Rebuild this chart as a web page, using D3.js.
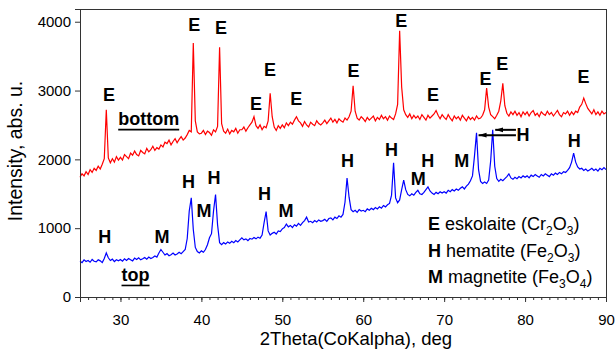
<!DOCTYPE html>
<html>
<head>
<meta charset="utf-8">
<script src="https://cdn.jsdelivr.net/npm/d3@7"></script>
<style>
  html, body { margin: 0; padding: 0; background: #fff; }
  svg { display: block; font-family: "Liberation Sans", Arial, sans-serif; }
</style>
</head>
<body>
<div id="chart"></div>
<script>
// scan grid: 25 .. 90 deg, one reading every 0.25 deg
const angleStart = 25;
const angleStep = 0.25;

// "bottom" sample (red)
const bottomCounts = [
  1740, 1790, 1760, 1820, 1780, 1850, 1810, 1870, 1840, 1900, 1860, 1930, 2010, 2720, 2020, 1950, 2010, 1960, 2040, 1990,
  2030, 1990, 2070, 2040, 2010, 2090, 2060, 2120, 2070, 2050, 2130, 2100, 2080, 2160, 2110, 2140, 2190, 2130, 2170, 2150,
  2210, 2180, 2250, 2230, 2280, 2210, 2260, 2300, 2240, 2290, 2330, 2280, 2310, 2360, 2420, 2400, 3690, 2560, 2400, 2370,
  2380, 2420, 2360, 2410, 2390, 2350, 2430, 2400, 2480, 3630, 2520, 2410, 2380, 2440, 2370, 2420, 2400, 2450, 2380, 2430,
  2430, 2470, 2410, 2460, 2500, 2540, 2620, 2490, 2450, 2500, 2430, 2480, 2460, 2560, 2960, 2620, 2470, 2420, 2490, 2450,
  2500, 2460, 2530, 2490, 2540, 2510, 2570, 2620, 2560, 2530, 2480, 2550, 2500, 2470, 2540, 2510, 2490, 2560, 2520, 2500,
  2530, 2570, 2520, 2560, 2600, 2540, 2580, 2530, 2590, 2560, 2540, 2600, 2570, 2620, 2700, 3070, 2700, 2600, 2570, 2620,
  2590, 2550, 2610, 2570, 2600, 2630, 2560, 2610, 2580, 2640, 2590, 2620, 2570, 2630, 2600, 2580, 2660, 2800, 3870, 3050,
  2720, 2650, 2610, 2660, 2590, 2640, 2600, 2630, 2580, 2650, 2610, 2570, 2640, 2600, 2630, 2660, 2710, 2640, 2590, 2650,
  2610, 2580, 2650, 2600, 2560, 2630, 2590, 2620, 2570, 2640, 2600, 2560, 2620, 2580, 2610, 2570, 2630, 2590, 2600, 2640,
  2720, 3035, 2760, 2650, 2620, 2590, 2640, 2700, 2850, 3105, 2780, 2670, 2630, 2690, 2650, 2700, 2640, 2680, 2620, 2690,
  2650, 2690, 2630, 2680, 2710, 2640, 2670, 2620, 2690, 2660, 2640, 2700, 2650, 2680, 2630, 2670, 2710, 2650, 2620, 2680,
  2660, 2700, 2640, 2690, 2650, 2700, 2680, 2760, 2800, 2890, 2810, 2740, 2700, 2660, 2720, 2650, 2690, 2640, 2700, 2660,
  2680
];

// "top" sample (blue)
const topCounts = [
  520, 500, 540, 515, 530, 505, 545, 520, 510, 540, 525, 500, 560, 640, 570, 530, 550, 515, 540, 525,
  545, 520, 555, 530, 560, 540, 525, 565, 545, 570, 540, 555, 575, 550, 580, 560, 575, 595, 580, 640,
  690, 650, 610, 630, 600, 615, 640, 610, 625, 650, 630, 660, 690, 850, 1250, 1440, 980, 720, 660, 640,
  670, 650, 690, 760, 860, 920, 1250, 1490, 1050, 790, 760, 790, 770, 800, 780, 810, 790, 820, 800, 830,
  860, 830, 845, 820, 850, 840, 865, 845, 870, 855, 900, 1080, 1240, 960, 900, 925, 940, 915, 960, 950,
  990, 1010, 1060, 1020, 1040, 1010, 1050, 1030, 1070, 1040, 1080, 1110, 1160, 1090, 1100, 1080, 1110, 1090, 1120, 1100,
  1110, 1130, 1100, 1140, 1150, 1120, 1160, 1140, 1180, 1160, 1200, 1380, 1730, 1450, 1270, 1240, 1260, 1230, 1270, 1250,
  1260, 1240, 1280, 1260, 1290, 1270, 1300, 1280, 1310, 1290, 1330, 1310, 1340, 1360, 1480, 1950, 1440, 1370, 1410, 1560,
  1700, 1560, 1490, 1470, 1500, 1480, 1520, 1550, 1500, 1490, 1520, 1560, 1600, 1540, 1510, 1490, 1520, 1500, 1530, 1510,
  1530, 1510, 1550, 1530, 1560, 1540, 1570, 1550, 1580, 1600, 1570, 1610, 1640, 1690, 1760, 2050, 2385, 1850, 1680, 1650,
  1670, 1650, 1700, 1980, 2430, 1900, 1720, 1680, 1710, 1690, 1720, 1750, 1790, 1730, 1710, 1740, 1720, 1750, 1730, 1760,
  1740, 1760, 1730, 1770, 1750, 1780, 1760, 1740, 1780, 1760, 1790, 1770, 1750, 1790, 1770, 1800, 1780, 1810, 1790, 1820,
  1810, 1840, 1880, 1960, 2090, 1960, 1890, 1860, 1870, 1840, 1860, 1830, 1850, 1870, 1840, 1860, 1830, 1870, 1850, 1880,
  1850
];

const xTicks = [30, 40, 50, 60, 70, 80, 90];
const yTicks = [0, 1000, 2000, 3000, 4000];

// peak marks: [letter, angle, intensity at letter baseline]
const bottomMarks = [
  ["E", 28.59, 2847], ["E", 39.13, 3869], ["E", 42.43, 3821], ["E", 46.76, 2720],
  ["E", 48.49, 3206], ["E", 51.71, 2788], ["E", 58.79, 3191], ["E", 64.69, 3927],
  ["E", 68.61, 2851], ["E", 75.11, 3079], ["E", 77.18, 3302], ["E", 87.23, 3104]
];
const topMarks = [
  ["H", 28.07, 781], ["M", 35.14, 781], ["H", 38.42, 1577], ["M", 40.31, 1169],
  ["H", 41.57, 1649], ["H", 47.79, 1411], ["M", 50.47, 1164], ["H", 58.05, 1882],
  ["H", 63.49, 2042], ["M", 66.79, 1625], ["H", 67.96, 1882], ["M", 72.17, 1891],
  ["H", 79.74, 2269], ["H", 86.08, 2182]
];
// arrows from the H label to the two hematite peaks: [from, to, intensity]
const arrows = [[78.87, 74.25, 2352], [78.87, 76.31, 2429]];

const sampleNames = [["bottom", 33.49, 2497], ["top", 31.86, 233]];

const legendItems = [
  ["E", " eskolaite (Cr", "2", "O", "3", ")"],
  ["H", " hematite (Fe", "2", "O", "3", ")"],
  ["M", " magnetite (Fe", "3", "O", "4", ")"]
];

const width = 615;
const height = 359;

const x = d3.scaleLinear().domain([25, 90]).range([80, 606]);
const y = d3.scaleLinear().domain([0, 4185]).range([297, 9]);

const svg = d3.select("#chart")
  .append("svg")
  .attr("width", width)
  .attr("height", height);

const line = d3.line()
  .x((d, i) => x(angleStart + i * angleStep))
  .y(d => y(d));

svg.append("path")
  .datum(topCounts)
  .attr("fill", "none")
  .attr("stroke", "#0000ff")
  .attr("stroke-width", 1.2)
  .attr("d", line);

svg.append("path")
  .datum(bottomCounts)
  .attr("fill", "none")
  .attr("stroke", "#ff0000")
  .attr("stroke-width", 1.2)
  .attr("d", line);

// frame
svg.append("rect")
  .attr("x", 80.5).attr("y", 9.5)
  .attr("width", 526).attr("height", 288)
  .attr("fill", "none")
  .attr("stroke", "#333");

// x axis, minor ticks every degree
svg.append("g")
  .attr("transform", "translate(0,297)")
  .call(d3.axisBottom(x).tickValues(d3.range(25, 91)).tickSize(3).tickFormat(""))
  .call(g => g.select(".domain").remove())
  .call(g => g.selectAll("line").attr("stroke", "#333"));

svg.append("g")
  .attr("transform", "translate(0,297)")
  .call(d3.axisBottom(x).tickValues(xTicks).tickSize(5).tickPadding(12))
  .call(g => g.select(".domain").attr("stroke", "#333"))
  .call(g => g.selectAll("line").attr("stroke", "#333"))
  .call(g => g.selectAll("text")
    .attr("font-family", "Liberation Sans, Arial, sans-serif")
    .attr("font-size", 15)
    .attr("fill", "#000"));

svg.append("g")
  .attr("transform", "translate(80,0)")
  .call(d3.axisLeft(y).tickValues(yTicks).tickFormat(d3.format("d")).tickSize(5).tickPadding(4))
  .call(g => g.select(".domain").attr("stroke", "#333"))
  .call(g => g.selectAll("line").attr("stroke", "#333"))
  .call(g => g.selectAll("text")
    .attr("font-family", "Liberation Sans, Arial, sans-serif")
    .attr("font-size", 15)
    .attr("fill", "#000"));

svg.append("text")
  .attr("x", 356)
  .attr("y", 345)
  .attr("text-anchor", "middle")
  .attr("font-size", 18.5)
  .text("2Theta(CoKalpha), deg");

svg.append("text")
  .attr("transform", "translate(22,151) rotate(-90)")
  .attr("text-anchor", "middle")
  .attr("font-size", 19.5)
  .text("Intensity, abs. u.");

// peak letters
svg.append("g")
  .selectAll("text")
  .data(bottomMarks.concat(topMarks))
  .join("text")
  .attr("x", d => x(d[1]))
  .attr("y", d => y(d[2]))
  .attr("text-anchor", "middle")
  .attr("font-size", 18)
  .attr("font-weight", "bold")
  .text(d => d[0]);

svg.append("defs").append("marker")
  .attr("id", "head")
  .attr("viewBox", "0 0 10 6")
  .attr("refX", 10).attr("refY", 3)
  .attr("markerWidth", 8).attr("markerHeight", 6)
  .attr("markerUnits", "userSpaceOnUse")
  .attr("orient", "auto")
  .append("path")
  .attr("d", "M0,0L10,3L0,6Z")
  .attr("fill", "#000");

svg.append("g")
  .selectAll("line")
  .data(arrows)
  .join("line")
  .attr("x1", d => x(d[0]))
  .attr("x2", d => x(d[1]))
  .attr("y1", d => y(d[2]))
  .attr("y2", d => y(d[2]))
  .attr("stroke", "#000")
  .attr("stroke-width", 2)
  .attr("marker-end", "url(#head)");

// sample names, underlined
const names = svg.append("g")
  .selectAll("g")
  .data(sampleNames)
  .join("g");

names.append("text")
  .attr("x", d => x(d[1]))
  .attr("y", d => y(d[2]))
  .attr("text-anchor", "middle")
  .attr("font-size", 18)
  .attr("font-weight", "bold")
  .text(d => d[0]);

names.each(function(d) {
  const t = d3.select(this).select("text").node();
  const w = t.getComputedTextLength();
  d3.select(this).append("line")
    .attr("x1", x(d[1]) - w / 2)
    .attr("x2", x(d[1]) + w / 2)
    .attr("y1", y(d[2]) + 4.5)
    .attr("y2", y(d[2]) + 4.5)
    .attr("stroke", "#000")
    .attr("stroke-width", 1.6);
});

// legend
const legend = svg.append("g")
  .selectAll("text")
  .data(legendItems)
  .join("text")
  .attr("x", 428)
  .attr("y", (d, i) => 230 + i * 26.7)
  .attr("font-size", 18);

legend.append("tspan").attr("font-weight", "bold").text(d => d[0]);
legend.append("tspan").text(d => d[1]);
legend.append("tspan").attr("font-size", 12).attr("dy", 5).text(d => d[2]);
legend.append("tspan").attr("dy", -5).text(d => d[3]);
legend.append("tspan").attr("font-size", 12).attr("dy", 5).text(d => d[4]);
legend.append("tspan").attr("dy", -5).text(d => d[5]);
</script>
</body>
</html>
